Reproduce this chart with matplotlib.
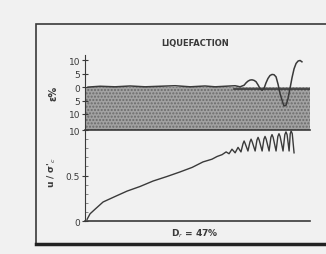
import matplotlib
matplotlib.use('Agg')
import matplotlib.pyplot as plt
from matplotlib.patches import Rectangle

# strain record (upper panel), time in arbitrary units 0-100
t_strain = [1.3, 6.7, 13.3, 20, 26.7, 33.3, 40, 46.7, 53.3, 57.8, 62.2, 66.7,
            68.9, 70.7, 71.6, 72.4, 73.3, 74.2, 75.1, 76, 76.9, 77.8, 78.7,
            79.6, 80.4, 81.3, 82.2, 83.1, 84, 84.9, 85.8, 86.7, 87.6, 88.4,
            89.3, 90.2, 91.1, 92, 92.9, 93.8, 94.7, 95.6, 96.4]
strain = [0, 0.3, 0.1, 0.4, 0.1, 0.3, 0.5, 0.1, 0.4, 0.1, 0.3, 0.5,
          0.1, 0.7, 1.6, 2.2, 2.6, 2.7, 2.5, 2.0, 0.8, -0.6, -1.2,
          -0.4, 1.5, 3.2, 4.3, 4.7, 4.6, 3.8, 1.0, -2.5, -5.0, -7.0,
          -6.8, -4.4, -0.5, 3.5, 6.8, 8.8, 9.7, 9.9, 9.4]

# pore pressure ratio (lower panel)
t_pp = [0.9, 2.2, 4.4, 8, 13.3, 18.7, 24.4, 30.2, 36.4, 42.2, 47.6, 52.4,
        56.4, 58.7, 60.9, 62.7, 64, 65.3, 66.7, 68, 69.3,
        70.2, 70.7, 71.2, 72.4, 73.3, 73.8, 74.3, 75.6,
        76.4, 76.9, 77.4, 78.7, 79.5, 80, 80.5, 81.8,
        82.6, 83.1, 83.6, 84.9, 85.7, 86.2, 86.7, 88,
        88.8, 89.3, 89.8, 90.7, 91.2, 91.6, 92.1, 92.9]
pp = [0.02, 0.08, 0.13, 0.21, 0.27, 0.33, 0.38, 0.44, 0.49, 0.54, 0.59, 0.65,
      0.68, 0.71, 0.73, 0.76, 0.74, 0.79, 0.75, 0.81, 0.76,
      0.85, 0.88, 0.85, 0.77, 0.87, 0.90, 0.87, 0.77,
      0.89, 0.92, 0.89, 0.77, 0.90, 0.93, 0.90, 0.77,
      0.92, 0.95, 0.92, 0.77, 0.93, 0.96, 0.93, 0.77,
      0.95, 0.98, 0.95, 0.77, 0.96, 0.99, 0.96, 0.75]

strain_ticks = [10, 5, 0, -5, -10]
strain_labels = ['10', '5', '0', '5', '10']
pp_ticks = [0, 0.5, 1.0]
pp_labels = ['0', '0.5', '10']

ink = '#3a3a3a'
bg = '#f1f1f1'

fig = plt.figure(figsize=(3.26, 2.55), dpi=100, facecolor=bg)

# outer frame of the scanned figure
fig.patches.append(Rectangle((0.110, 0.039), 0.95, 0.863, transform=fig.transFigure,
                             fill=False, edgecolor=ink, linewidth=1.2))
fig.add_artist(plt.Line2D([0.110, 1.0], [0.039, 0.039], transform=fig.transFigure,
                          color='#222222', linewidth=2.5))

ax_top = fig.add_axes([0.261, 0.486, 0.690, 0.294], facecolor='none')
ax_bot = fig.add_axes([0.261, 0.129, 0.690, 0.357], facecolor='none')

# upper panel: strain, stippled band below the record
ax_top.fill_between([0, 100], -16, 0, facecolor='#a2a2a2', hatch='.....',
                    edgecolor='#6a6a6a', linewidth=0)
ax_top.plot([66, 100], [-0.7, -0.7], color=ink, linewidth=1.2)
ax_top.plot(t_strain, strain, color=ink, linewidth=1.1)
ax_top.set_xlim(0, 100)
ax_top.set_ylim(-16, 11.9)
ax_top.set_yticks(strain_ticks)
ax_top.set_yticklabels(strain_labels)
ax_top.set_xticks([])
for s in ['top', 'right']:
    ax_top.spines[s].set_visible(False)
ax_top.spines['left'].set_color(ink)
ax_top.spines['bottom'].set_color(ink)
ax_top.spines['bottom'].set_linewidth(1.2)
ax_top.tick_params(axis='y', direction='inout', length=5, labelsize=6.5,
                   colors=ink, pad=1)

# lower panel: pore pressure ratio
ax_bot.plot(t_pp, pp, color=ink, linewidth=1.0, clip_on=False)
ax_bot.set_xlim(0, 100)
ax_bot.set_ylim(0, 1.0)
ax_bot.set_yticks(pp_ticks)
ax_bot.set_yticklabels(pp_labels)
ax_bot.set_yticks([0.1, 0.2, 0.3, 0.4, 0.6, 0.7, 0.8, 0.9], minor=True)
ax_bot.set_xticks([])
for s in ['top', 'right']:
    ax_bot.spines[s].set_visible(False)
ax_bot.spines['left'].set_color(ink)
ax_bot.spines['bottom'].set_color(ink)
ax_bot.spines['bottom'].set_linewidth(1.2)
ax_bot.tick_params(axis='y', which='major', direction='inout', length=5,
                   labelsize=6.5, colors=ink, pad=1)
ax_bot.tick_params(axis='y', which='minor', direction='in', length=2, colors='#777777')

fig.text(0.598, 0.831, 'LIQUEFACTION', ha='center', va='center', fontsize=6,
         color=ink, fontweight='bold')
fig.text(0.598, 0.083, 'D$_r$ = 47%', ha='center', va='center', fontsize=6.5,
         color=ink, fontweight='bold')
fig.text(0.163, 0.635, 'ε%', ha='center', va='center', rotation=90,
         fontsize=7, color=ink, fontweight='bold')
fig.text(0.160, 0.325, "u / σ'$_c$", ha='center', va='center', rotation=90,
         fontsize=6.5, color=ink, fontweight='bold')

fig.savefig('out.png', dpi=100, facecolor=bg)
